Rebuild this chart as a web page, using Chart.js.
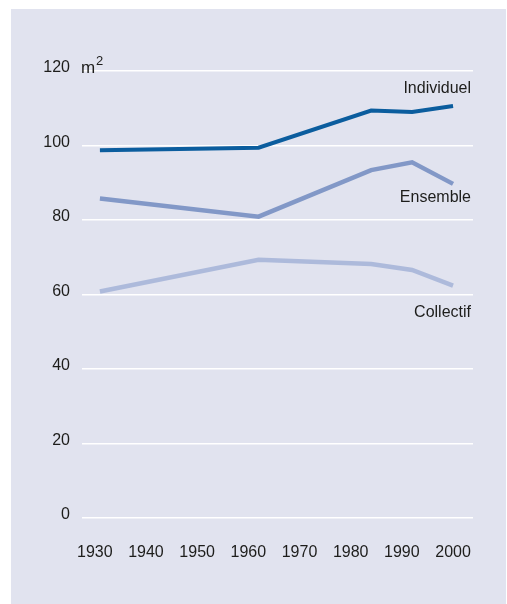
<!DOCTYPE html>
<html>
<head>
<meta charset="utf-8">
<script src="https://cdn.jsdelivr.net/npm/chart.js@4"></script>
<style>
  html, body { margin: 0; padding: 0; background: #fff; }
  body { width: 507px; height: 604px; position: relative; overflow: hidden; }
  #panel { position: absolute; left: 11px; top: 9px; width: 495px; height: 595px; background: #e1e3ef; }
  #wrap { position: absolute; left: 0; top: 0; width: 507px; height: 604px; }
</style>
</head>
<body>
<div id="panel"></div>
<div id="wrap"><canvas id="surfaceChart" width="507" height="604"></canvas></div>
<script>
// annees des enquetes
const years = [1931, 1962, 1984, 1992, 2000];
// surface moyenne (m2)
const individuel = [98.7, 99.4, 109.4, 109.0, 110.6];
const ensemble = [85.8, 80.9, 93.4, 95.5, 89.7];
const collectif = [60.8, 69.3, 68.2, 66.6, 62.4];
const seriesNames = ['Individuel', 'Ensemble', 'Collectif'];
const xTicks = [1930, 1940, 1950, 1960, 1970, 1980, 1990, 2000];
const yTicks = [0, 20, 40, 60, 80, 100, 120];

const FONT = "'Liberation Sans', Arial, sans-serif";
const textColor = '#1d1d1b';

function toPoints(vals) {
  return vals.map((v, i) => ({ x: years[i], y: v }));
}

// noms des series, en bout de courbe
const seriesLabels = {
  id: 'seriesLabels',
  afterDatasetsDraw(chart, args, opts) {
    const { ctx, chartArea, scales } = chart;
    ctx.save();
    ctx.font = '16px ' + FONT;
    ctx.fillStyle = textColor;
    ctx.textAlign = 'right';
    ctx.textBaseline = 'middle';
    opts.at.forEach((v, i) => {
      ctx.fillText(seriesNames[i], chartArea.right - 2, scales.y.getPixelForValue(v));
    });
    // unite
    const y120 = scales.y.getPixelForValue(120);
    ctx.textAlign = 'left';
    ctx.textBaseline = 'alphabetic';
    ctx.font = '17px ' + FONT;
    ctx.fillText('m', chartArea.left - 1, y120 + 1.5);
    ctx.font = '13px ' + FONT;
    ctx.fillText('2', chartArea.left + 14, y120 - 6);
    ctx.restore();
  }
};

const chart = new Chart(document.getElementById('surfaceChart').getContext('2d'), {
  type: 'line',
  data: {
    datasets: [
      { label: seriesNames[0], data: toPoints(individuel), borderColor: '#0b5d9e', borderWidth: 4 },
      { label: seriesNames[1], data: toPoints(ensemble), borderColor: '#8298c7', borderWidth: 4.5 },
      { label: seriesNames[2], data: toPoints(collectif), borderColor: '#adbadb', borderWidth: 4.5 }
    ]
  },
  options: {
    responsive: false,
    animation: false,
    devicePixelRatio: 1,
    layout: { padding: { left: 0, top: 71, right: 34, bottom: 0 } },
    elements: {
      point: { radius: 0 },
      line: { tension: 0, borderCapStyle: 'butt', borderJoinStyle: 'miter' }
    },
    plugins: {
      legend: { display: false },
      tooltip: { enabled: false },
      seriesLabels: { at: [115.3, 86.0, 55.2] }
    },
    scales: {
      x: {
        type: 'linear',
        min: 1927.5,
        max: 2003.9,
        afterBuildTicks: s => { s.ticks = xTicks.map(v => ({ value: v })); },
        afterFit: s => { s.height = 86; },
        grid: { display: false, drawTicks: false },
        border: { display: false },
        ticks: {
          color: textColor,
          font: { family: FONT, size: 16 },
          padding: 25,
          maxRotation: 0,
          autoSkip: false,
          callback: v => String(v)
        }
      },
      y: {
        min: 0,
        max: 120,
        afterBuildTicks: s => { s.ticks = yTicks.map(v => ({ value: v })); },
        afterFit: s => { s.width = 82; },
        grid: { color: '#ffffff', lineWidth: 1.6, drawTicks: false },
        border: { display: false },
        ticks: {
          color: textColor,
          font: { family: FONT, size: 16 },
          padding: 12,
          labelOffset: -3,
          callback: v => String(v)
        }
      }
    }
  },
  plugins: [seriesLabels]
});
</script>
</body>
</html>
